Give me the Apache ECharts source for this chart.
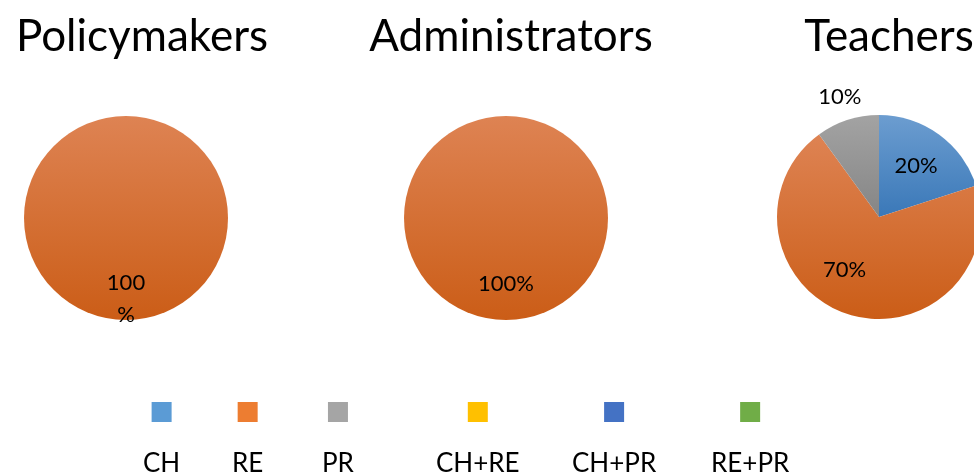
<!DOCTYPE html>
<html>
<head>
<meta charset="utf-8">
<script src="https://cdn.jsdelivr.net/npm/echarts@6/dist/echarts.min.js"></script>
<style>
  html, body { margin: 0; padding: 0; background: #fff; }
  #main { width: 974px; height: 475px; }
</style>
</head>
<body>
<div id="main"></div>
<script>
// data
var categories = ['CH', 'RE', 'PR', 'CH+RE', 'CH+PR', 'RE+PR'];
var groups = ['Policymakers', 'Administrators', 'Teachers'];
var policymakers = [0, 100, 0, 0, 0, 0];
var administrators = [0, 100, 0, 0, 0, 0];
var teachers = [20, 70, 10, 0, 0, 0];

// colours (office palette) + gradient ends for the slices
var legendColors = ['#5b9bd5', '#ed7d31', '#a5a5a5', '#ffc000', '#4472c4', '#70ad47'];
var gradTop = ['#6c9dd0', '#de8353', '#a3a3a3', '#ffc000', '#4472c4', '#70ad47'];
var gradBottom = ['#3a78b8', '#cb5d17', '#858585', '#ffc000', '#4472c4', '#70ad47'];

// layout
var pieCenters = [[126, 218], [506, 218], [879, 217]];
var pieRadius = 102;
var titleCenters = [137, 506, 884];
// where each label sits, as a fraction of the radius, and a small turn (deg, screen)
var labelRadius = [
  [0, 0.79, 0, 0, 0, 0],
  [0, 0.65, 0, 0, 0, 0],
  [0.62, 0.62, 1.24, 0, 0, 0]
];
var labelTurn = [
  [0, 0, 0, 0, 0, 0],
  [0, 0, 0, 0, 0, 0],
  [0, 15, 0, 0, 0, 0]
];
var legendLeft = [138, 227, 317, 431, 567, 706];

var FONT = 'Lato';

var myChart = echarts.init(document.getElementById('main'));

function sliceColor(i) {
  return new echarts.graphic.LinearGradient(0, 0, 0, 1, [
    { offset: 0, color: gradTop[i] },
    { offset: 1, color: gradBottom[i] }
  ]);
}

function buildData(values) {
  return categories.map(function (name, i) {
    return {
      name: name,
      value: values[i],
      itemStyle: { color: sliceColor(i) },
      label: { show: values[i] > 0 }
    };
  });
}

var allValues = [policymakers, administrators, teachers];

var series = allValues.map(function (vals, s) {
  var lbl = {
    show: true,
    position: 'inside',
    color: '#000',
    fontFamily: FONT,
    fontSize: 22,
    formatter: function (p) { return p.value + '%'; }
  };
  if (s === 0) {
    // the first pie wraps its label in the reference
    lbl.width = 44;
    lbl.overflow = 'breakAll';
    lbl.lineHeight = 32;
    lbl.align = 'center';
  }
  return {
    name: groups[s],
    type: 'pie',
    center: pieCenters[s],
    radius: [0, pieRadius],
    startAngle: 90,
    clockwise: true,
    silent: true,
    animation: false,
    avoidLabelOverlap: false,
    itemStyle: { borderWidth: 0 },
    label: lbl,
    labelLine: { show: false },
    data: buildData(vals),
    labelLayout: function (p) {
      var c = pieCenters[s];
      var r = labelRadius[s][p.dataIndex] * pieRadius;
      var lx = p.labelRect.x + p.labelRect.width / 2;
      var ly = p.labelRect.y + p.labelRect.height / 2;
      var vx = lx - c[0], vy = ly - c[1];
      var a = Math.atan2(vy, vx) + labelTurn[s][p.dataIndex] * Math.PI / 180;
      return { dx: Math.cos(a) * r - vx, dy: Math.sin(a) * r - vy };
    }
  };
});

// legend: square on top, name below
var richStyles = {
  t: { fontFamily: FONT, fontSize: 26, color: '#000', lineHeight: 84, align: 'center' }
};
categories.forEach(function (c, i) {
  richStyles['s' + i] = { backgroundColor: legendColors[i], width: 20, height: 20, lineHeight: 20, align: 'center' };
});

var legends = categories.map(function (name, i) {
  return {
    data: [name],
    left: legendLeft[i],
    top: 402,
    padding: 0,
    icon: 'none',
    itemWidth: 0,
    itemHeight: 0,
    selectedMode: false,
    formatter: function (n) { return '{s' + i + '|}\n{t|' + n + '}'; },
    textStyle: { rich: richStyles }
  };
});

var titles = groups.map(function (g, i) {
  return {
    text: g,
    left: titleCenters[i],
    top: 10,
    textAlign: 'center',
    textStyle: { fontFamily: FONT, fontSize: 44, fontWeight: 'normal', color: '#000' }
  };
});

myChart.setOption({
  backgroundColor: '#fff',
  animation: false,
  title: titles,
  legend: legends,
  series: series
});
</script>
</body>
</html>
